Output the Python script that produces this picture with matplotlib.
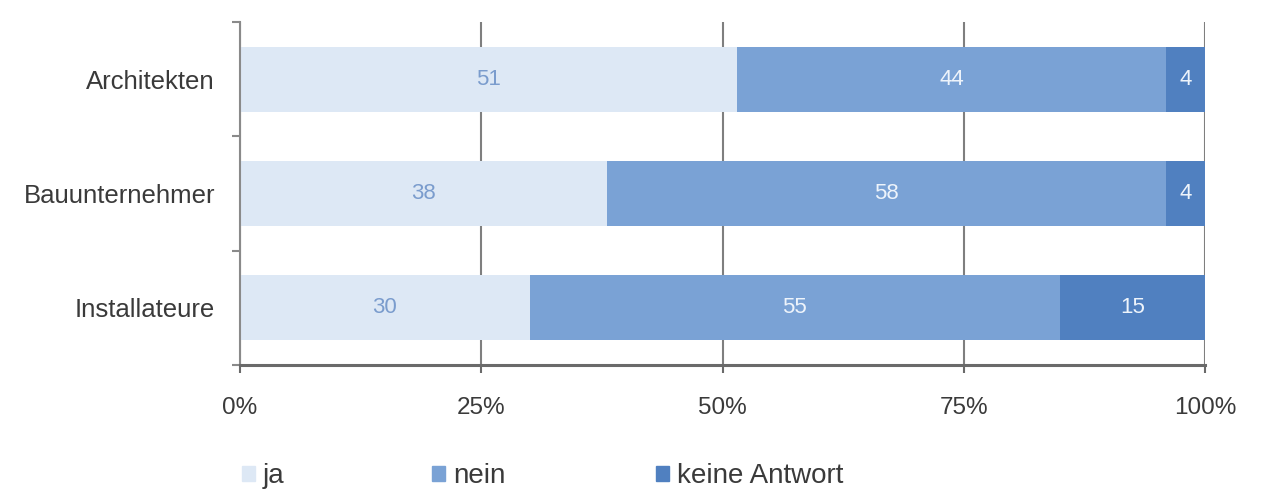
import numpy as np
import matplotlib
matplotlib.use("Agg")
import matplotlib.pyplot as plt
from matplotlib.patches import Patch

plt.rcParams['font.family'] = ['Liberation Sans', 'DejaVu Sans']

# Daten
categories = ["Architekten", "Bauunternehmer", "Installateure"]
series = ["ja", "nein", "keine Antwort"]
ja = [51, 38, 30]
nein = [44, 58, 55]
keine = [4, 4, 15]
x_ticks = [0, 25, 50, 75, 100]
x_tick_labels = ["0%", "25%", "50%", "75%", "100%"]

colors = ["#dde8f5", "#7aa2d5", "#5080c0"]
label_colors = ["#7a9ccd", "#eef4fb", "#eef4fb"]

values = np.array([ja, nein, keine], dtype=float)
shares = values / values.sum(axis=0) * 100  # 100%-gestapelt

fig = plt.figure(figsize=(12.65, 4.92), dpi=100)
ax = fig.add_axes([240 / 1265, 1 - 365 / 492, 965 / 1265, 343 / 492])

y = np.arange(len(categories))
left = np.zeros(len(categories))
for i, name in enumerate(series):
    bars = ax.barh(y, shares[i], left=left, height=0.57, color=colors[i],
                   label=name, zorder=2)
    ax.bar_label(bars, labels=[f"{v:g}" for v in values[i]], label_type="center",
                 color=label_colors[i], fontsize=16)
    left += shares[i]

ax.set_xlim(0, 100)
ax.set_ylim(len(categories) - 0.5, -0.5)
ax.set_xticks(x_ticks)
ax.set_xticklabels(x_tick_labels)
ax.set_yticks(y)
ax.set_yticklabels(categories)
ax.set_yticks(np.arange(len(categories) + 1) - 0.5, minor=True)

ax.grid(axis="x", color="#7f7f7f", linewidth=1.5, zorder=0)
ax.set_axisbelow(True)

for s in ["top", "right"]:
    ax.spines[s].set_visible(False)
ax.spines["left"].set_color("#8a8a8a")
ax.spines["left"].set_linewidth(1.5)
ax.spines["bottom"].set_color("#6a6a6a")
ax.spines["bottom"].set_linewidth(2.2)

ax.tick_params(axis="y", which="major", length=0, pad=18, labelsize=18.5,
               labelcolor="#3a3a3a")
ax.tick_params(axis="y", which="minor", length=6, width=1.5, color="#8a8a8a")
ax.tick_params(axis="x", length=6, width=1.5, color="#6a6a6a", pad=17,
               labelsize=17.5, labelcolor="#3a3a3a")

# Legende: drei einzelne Einträge wie im Original
legend_x = [242, 432, 656]
for i, name in enumerate(series):
    fig.legend(handles=[Patch(color=colors[i])], labels=[name],
               loc="center left", bbox_to_anchor=(legend_x[i] / 1265, 1 - 476 / 492),
               frameon=False, fontsize=20, handlelength=0.45, handleheight=0.45,
               handletextpad=0.3, borderpad=0, borderaxespad=0,
               labelcolor="#3a3a3a")

fig.savefig("out.png", dpi=100)
